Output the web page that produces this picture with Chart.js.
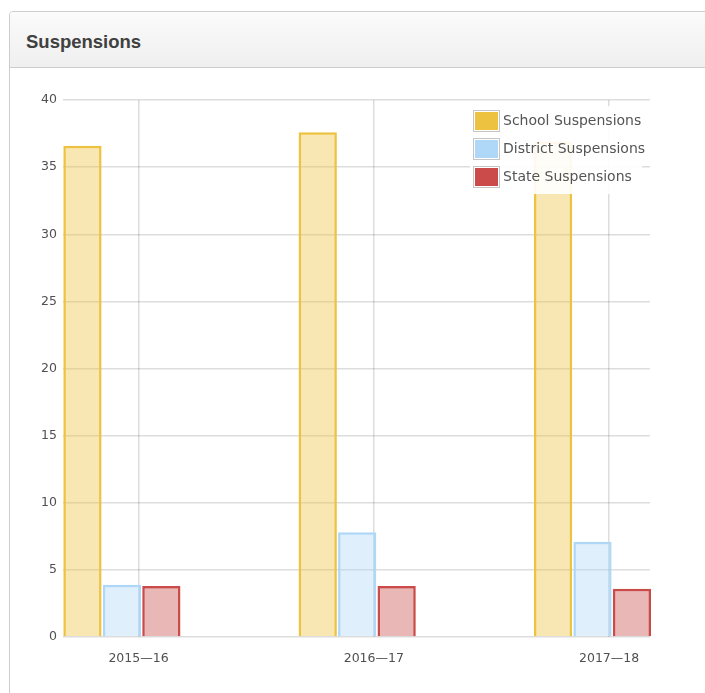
<!DOCTYPE html>
<html>
<head>
<meta charset="utf-8">
<script src="https://cdn.jsdelivr.net/npm/chart.js@4.4.1/dist/chart.umd.min.js"></script>
<style>
html,body{margin:0;padding:0;background:#fff;width:705px;height:693px;overflow:hidden;font-family:"DejaVu Sans",sans-serif;}
#card{position:absolute;left:9px;top:11px;width:730px;height:720px;border:1px solid #cdcdcd;border-radius:4px 0 0 0;box-sizing:border-box;background:#fff;}
#hdr{position:absolute;left:0;top:0;width:730px;height:55px;background:linear-gradient(#fbfbfb,#efefef);border-bottom:1px solid #cdcdcd;border-radius:3px 0 0 0;}
#title{position:absolute;left:16px;top:20px;font:bold 18.5px "Liberation Sans",Arial,sans-serif;line-height:20px;color:#404040;white-space:nowrap;}
#chartwrap{position:absolute;left:0;top:0;width:705px;height:693px;}
#legend{position:absolute;left:470px;top:106px;width:172px;height:88px;background:rgba(255,255,255,0.9);}
.row{position:absolute;left:3px;height:22px;}
.sw{position:absolute;left:0;top:0;width:23px;height:18px;border:1px solid #c6c6c6;padding:1px;background:#fff;}
.sw div{width:23px;height:18px;}
.lt{position:absolute;left:30px;top:2px;line-height:23px;font:14px "DejaVu Sans",sans-serif;color:#545454;white-space:nowrap;}
</style>
</head>
<body>
<div id="card"><div id="hdr"><div id="title">Suspensions</div></div></div>
<div id="chartwrap"><canvas id="c" width="705" height="693"></canvas></div>
<div id="legend"></div>
<script>
// ---- data ----
const categories = ['2015—16', '2016—17', '2017—18'];
const seriesNames = ['School Suspensions', 'District Suspensions', 'State Suspensions'];
const schoolValues = [36.6, 37.6, 36.9];
const districtValues = [3.9, 7.8, 7.1];
const stateValues = [3.8, 3.8, 3.6];
const yTicks = [0, 5, 10, 15, 20, 25, 30, 35, 40];

// ---- styles ----
const lineColors = ['#edc240', '#afd8f8', '#cb4b4b'];
const fillColors = ['rgba(237,194,64,0.4)', 'rgba(175,216,248,0.4)', 'rgba(203,75,75,0.4)'];
const allValues = [schoolValues, districtValues, stateValues];

const toPoints = vals => vals.map((v, i) => ({ x: i, y: v }));

const datasets = allValues.map((vals, k) => ({
  label: seriesNames[k],
  data: toPoints(vals),
  backgroundColor: fillColors[k],
  borderColor: lineColors[k],
  borderWidth: 2.5,
  borderSkipped: 'start',
  categoryPercentage: 0.503,
  barPercentage: 0.97,
  clip: { left: 2, top: 2, right: 4, bottom: 0 }
}));

const gridColor = 'rgba(84,84,84,0.2)';
const tickFont = { family: 'DejaVu Sans', size: 12.5 };
const categoryTicks = s => { s.ticks = categories.map((c, i) => ({ value: i })); };

new Chart(document.getElementById('c'), {
  type: 'bar',
  data: { datasets },
  options: {
    responsive: false,
    animation: false,
    devicePixelRatio: 1,
    layout: { padding: { top: 100, left: 0, right: 55, bottom: 0 } },
    plugins: { legend: { display: false }, tooltip: { enabled: false } },
    scales: {
      x: {
        type: 'linear',
        display: false,
        offset: false,
        grid: { offset: false },
        min: -0.2503,
        max: 2.2444,
        afterBuildTicks: categoryTicks
      },
      x2: {
        type: 'linear',
        display: true,
        position: 'bottom',
        offset: false,
        min: -0.3209,
        max: 2.1738,
        afterFit: s => { s.height = 56; },
        afterBuildTicks: categoryTicks,
        border: { display: false },
        grid: { offset: false, color: gridColor, lineWidth: 1.5, drawTicks: false },
        ticks: {
          autoSkip: false, maxRotation: 0, padding: 14,
          color: '#505050', font: tickFont,
          callback: v => categories[v]
        }
      },
      y: {
        min: 0,
        max: 40,
        afterFit: s => { s.width = 63; },
        afterBuildTicks: s => { s.ticks = yTicks.map(v => ({ value: v })); },
        border: { display: false },
        grid: { color: gridColor, lineWidth: 1.5, drawTicks: false },
        ticks: { padding: 6, color: '#505050', font: tickFont }
      }
    }
  }
});

// ---- legend (HTML, from series names/colours) ----
const legend = document.getElementById('legend');
seriesNames.forEach((name, k) => {
  const row = document.createElement('div');
  row.className = 'row';
  row.style.top = (4 + 28 * k) + 'px';
  row.innerHTML = '<div class="sw"><div style="background:' + lineColors[k] + '"></div></div>' +
                  '<div class="lt"></div>';
  row.querySelector('.lt').textContent = name;
  legend.appendChild(row);
});
</script>
</body>
</html>
